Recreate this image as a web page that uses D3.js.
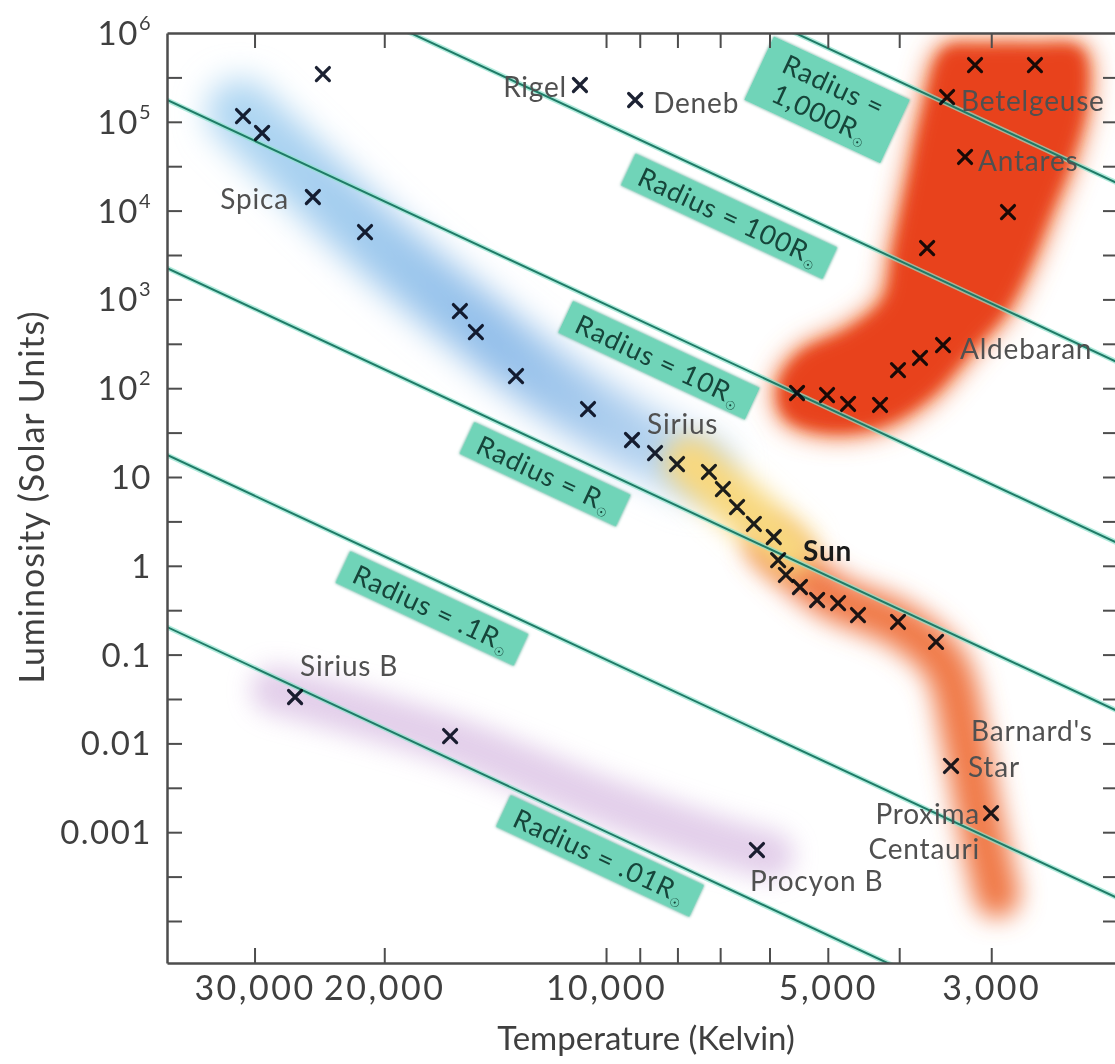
<!DOCTYPE html>
<html>
<head>
<meta charset="utf-8">
<script src="https://cdn.jsdelivr.net/npm/d3@7"></script>
<style>
  body { margin: 0; background: #fff; }
  svg { display: block; font-family: Lato, "Open Sans", sans-serif; }
</style>
</head>
<body>
<svg id="chart" width="1115" height="1064"></svg>
<script>
// ---- data (temperature in K, luminosity in solar units) ----
var xTickValues = [30000, 20000, 10000, 9000, 8000, 7000, 6000, 5000, 4000, 3000];
var xLabelValues = [30000, 20000, 10000, 5000, 3000];
var xLabelText = ["30,000", "20,000", "10,000", "5,000", "3,000"];

var yTickExponents = [-4, -3.5, -3, -2.5, -2, -1.5, -1, -0.5, 0, 0.5, 1, 1.5, 2, 2.5, 3, 3.5, 4, 4.5, 5, 5.5];
var yLabelValues = [1e6, 1e5, 1e4, 1e3, 1e2, 10, 1, 0.1, 0.01, 0.001];
var yLabelBase = ["10", "10", "10", "10", "10", "10", "1", "0.1", "0.01", "0.001"];
var yLabelSup = ["6", "5", "4", "3", "2", "", "", "", "", ""];

// star marks, [T, L]
var blueStars = [[31100, 116200], [29300, 74800], [25000, 14230], [21240, 5740], [15790, 740], [15020, 429],
                 [13250, 137], [10580, 58.3], [9220, 26.1], [8580, 18.6], [8010, 14.0]];
var superGiants = [[24230, 345300], [10850, 259700], [9130, 176000]];
var mainSeq = [[7250, 11.4], [6940, 7.32], [6640, 4.59], [6300, 2.96], [5920, 2.11], [5840, 1.16], [5700, 0.788],
               [5455, 0.577], [5170, 0.412], [4842, 0.381], [4550, 0.279], [4015, 0.233], [3565, 0.139]];
var redGiants = [[3156, 436000], [2617, 436000], [3444, 190000], [3256, 40150], [2847, 9640], [3666, 3790],
                 [3488, 306], [3748, 219], [4015, 160], [4247, 64.7], [4693, 66.4], [5012, 83.8], [5505, 88.3]];
var whiteDwarfs = [[26430, 0.0333], [16280, 0.0121], [6240, 0.00063]];
var redDwarfs = [[3402, 0.00557], [3002, 0.00164]];

var starNames = ["Spica", "Rigel", "Deneb", "Betelgeuse", "Antares", "Aldebaran", "Sirius", "Sun",
                 "Sirius B", "Procyon B", "Barnard's Star", "Proxima Centauri"];
var starTemps = [25000, 10850, 9130, 3444, 3256, 3488, 9220, 5840, 26430, 6240, 3402, 3002];
var starLums = [14230, 259700, 176000, 190000, 40150, 306, 26.1, 1.16, 0.0333, 0.00063, 0.00557, 0.00164];

// lines of constant radius, two end points each
var radiusNames = ["1,000", "100", "10", "", ".1", ".01"];
var radiusLines = [
  [[40000, 2.1e9], [2000, 1.95e4]],
  [[40000, 2.0e7], [2000, 188]],
  [[40000, 1.86e5], [2000, 1.73]],
  [[40000, 2380], [2000, 0.0222]],
  [[40000, 18.7], [2000, 1.74e-4]],
  [[40000, 0.216], [2000, 2.0e-6]]
];

// shaded regions
var blueBand = [[31400, 128900], [26030, 28660], [20270, 4100], [15300, 586], [11550, 95.4], [8990, 26.1], [7455, 12.6]];
var yellowBand = [[7690, 14.8], [6580, 4.84], [5627, 1.51]];
var orangeBand = [[5990, 1.71], [4966, 0.469], [3990, 0.215], [3465, 0.0763], [3256, 0.0109], [3107, 0.00137], [2947, 0.000196]];
var purpleBand = [[28130, 0.0399], [16280, 0.0109], [10190, 0.0023], [7455, 0.00093], [5990, 0.00055]];
var redRegion = [[3465, 643000], [3100, 700000], [2600, 700000], [2273, 643000], [2237, 176000], [2346, 37130],
                 [2496, 10150], [2674, 2440], [2873, 760], [3206, 269], [3633, 83.8], [4247, 38.5], [5122, 33.8],
                 [5715, 49.9], [5805, 109], [5455, 236], [4664, 452], [4181, 984], [4052, 3600], [3868, 22110],
                 [3690, 135800]];

// ---- layout ----
var pLeft = 167, pRight = 1117, pTop = 33, pBottom = 963;
var ink = "#505050";

var x = d3.scaleLog().domain([39440, 2025]).range([pLeft, pRight]);
var y = d3.scaleLog().domain([3.365e-5, 1e6]).range([pBottom, pTop]);

var svg = d3.select("#chart");
var defs = svg.append("defs");

defs.append("clipPath").attr("id", "plot")
  .append("rect").attr("x", pLeft).attr("y", pTop).attr("width", pRight - pLeft).attr("height", pBottom - pTop);

function blur(id, sd) {
  defs.append("filter").attr("id", id)
    .attr("x", "-50%").attr("y", "-50%").attr("width", "200%").attr("height", "200%")
    .append("feGaussianBlur").attr("stdDeviation", sd);
}
blur("b16", 16);
blur("b12", 12);
blur("b7", 7);

var shadow = defs.append("filter").attr("id", "boxShadow")
  .attr("x", "-20%").attr("y", "-40%").attr("width", "140%").attr("height", "180%");
shadow.append("feDropShadow").attr("dx", 0).attr("dy", 0).attr("stdDeviation", 1.6)
  .attr("flood-color", "#2c8a73").attr("flood-opacity", 0.8);

var line = d3.line().x(function(d) { return x(d[0]); }).y(function(d) { return y(d[1]); })
  .curve(d3.curveCatmullRom);
var straight = d3.line().x(function(d) { return x(d[0]); }).y(function(d) { return y(d[1]); });

var plot = svg.append("g").attr("clip-path", "url(#plot)");

// blue band gradient
var bg = defs.append("linearGradient").attr("id", "blueGrad")
  .attr("gradientUnits", "userSpaceOnUse")
  .attr("x1", x(blueBand[0][0])).attr("x2", x(blueBand[blueBand.length - 1][0]))
  .attr("y1", 0).attr("y2", 0);
bg.append("stop").attr("offset", "0%").attr("stop-color", "#aed6f2");
bg.append("stop").attr("offset", "55%").attr("stop-color", "#93bfea");
bg.append("stop").attr("offset", "100%").attr("stop-color", "#bcd7f1");

plot.append("path").datum(blueBand).attr("d", line)
  .attr("fill", "none").attr("stroke", "url(#blueGrad)").attr("stroke-width", 66)
  .attr("stroke-linecap", "round").attr("filter", "url(#b16)");

plot.append("path").datum(purpleBand).attr("d", line)
  .attr("fill", "none").attr("stroke", "#dcc3e5").attr("stroke-width", 48).attr("opacity", 0.8)
  .attr("stroke-linecap", "round").attr("filter", "url(#b12)");

plot.append("path").datum(orangeBand).attr("d", line)
  .attr("fill", "none").attr("stroke", "#f07a4a").attr("stroke-width", 46)
  .attr("stroke-linecap", "round").attr("filter", "url(#b12)");

plot.append("path").datum(yellowBand).attr("d", line)
  .attr("fill", "none").attr("stroke", "#f8d87f").attr("stroke-width", 52)
  .attr("stroke-linecap", "round").attr("filter", "url(#b12)");

var area = d3.line().x(function(d) { return x(d[0]); }).y(function(d) { return y(d[1]); })
  .curve(d3.curveCatmullRomClosed);

plot.append("path").datum(redRegion).attr("d", area)
  .attr("fill", "#f2804e").attr("stroke", "#f2804e").attr("stroke-width", 14)
  .attr("filter", "url(#b12)");
plot.append("path").datum(redRegion).attr("d", area)
  .attr("fill", "#e8431f").attr("filter", "url(#b7)");

// radius lines
radiusLines.forEach(function(seg) {
  plot.append("path").datum(seg).attr("d", straight)
    .attr("fill", "none").attr("stroke", "#8fe3cd").attr("stroke-width", 5).attr("opacity", 0.7);
  plot.append("path").datum(seg).attr("d", straight)
    .attr("fill", "none").attr("stroke", "#1f7b67").attr("stroke-width", 2);
});

// radius label boxes: where along each line (T), and how far below it
var boxLayout = [
  { t: 5012, below: 52, w: 150, h: 70 },
  { t: 6808, below: 35 },
  { t: 8477, below: 31 },
  { t: 12100, below: 30 },
  { t: 17230, below: 30 },
  { t: 10190, below: 27 }
];

radiusLines.forEach(function(seg, i) {
  var x0 = x(seg[0][0]), y0 = y(seg[0][1]), x1 = x(seg[1][0]), y1 = y(seg[1][1]);
  var slope = (y1 - y0) / (x1 - x0);
  var ang = Math.atan(slope) * 180 / Math.PI;
  var lay = boxLayout[i];
  var cx = x(lay.t), cy = y0 + (cx - x0) * slope + lay.below;
  var g = svg.append("g").attr("transform", "translate(" + cx + "," + cy + ") rotate(" + ang + ")");
  var rect = g.append("rect").attr("fill", "#70d4b8").attr("filter", "url(#boxShadow)");
  var txt = g.append("text").attr("text-anchor", "middle").attr("fill", "#16453a")
    .attr("font-size", 27).attr("letter-spacing", 1);
  var w, h;
  if (i === 0) {
    txt.append("tspan").attr("x", 0).attr("y", -6).text("Radius =");
    txt.append("tspan").attr("x", 0).attr("y", 25).text(radiusNames[i] + "R");
    txt.append("tspan").attr("font-size", 12).attr("dy", 5).attr("font-family", "DejaVu Sans").text("\u2609");
    w = lay.w; h = lay.h;
  } else {
    txt.attr("y", 10);
    txt.append("tspan").text("Radius = " + radiusNames[i] + "R");
    txt.append("tspan").attr("font-size", 12).attr("dy", 5).attr("font-family", "DejaVu Sans").text("\u2609");
    w = txt.node().getComputedTextLength() + 26; h = 35;
  }
  rect.attr("x", -w / 2).attr("y", -h / 2).attr("width", w).attr("height", h);
});

// axes
var axisColor = "#4d4d4d";
function styleAxis(g) {
  g.select(".domain").attr("stroke", axisColor).attr("stroke-width", 2.5);
  g.selectAll(".tick line").attr("stroke", axisColor).attr("stroke-width", 2);
  g.selectAll(".tick text").attr("fill", "#3f3f3f").attr("font-size", 34).attr("letter-spacing", 2.5)
    .attr("font-family", "Lato, sans-serif");
}

var yTicks = yTickExponents.map(function(e) { return Math.pow(10, e); });

svg.append("g").attr("transform", "translate(0," + pBottom + ")")
  .call(d3.axisBottom(x).tickValues(xTickValues).tickSizeInner(-15).tickSizeOuter(0).tickPadding(13)
    .tickFormat(function(d) { var k = xLabelValues.indexOf(d); return k < 0 ? "" : xLabelText[k]; }))
  .call(styleAxis);
svg.append("g").attr("transform", "translate(0," + pTop + ")")
  .call(d3.axisTop(x).tickValues(xTickValues).tickSizeInner(-15).tickSizeOuter(0).tickFormat(""))
  .call(styleAxis);
svg.append("g").attr("transform", "translate(" + pLeft + ",0)")
  .call(d3.axisLeft(y).tickValues(yTicks).tickSizeInner(-15).tickSizeOuter(0).tickFormat(""))
  .call(styleAxis);
svg.append("g").attr("transform", "translate(" + pRight + ",0)")
  .call(d3.axisRight(y).tickValues(yTicks).tickSizeInner(-14).tickSizeOuter(0).tickFormat(""))
  .call(styleAxis);

// y labels with superscripts
yLabelValues.forEach(function(v, i) {
  var t = svg.append("text").attr("x", 152).attr("y", y(v) + 12)
    .attr("text-anchor", "end").attr("fill", "#3f3f3f").attr("font-size", 33).attr("letter-spacing", 1.5);
  t.append("tspan").text(yLabelBase[i]);
  if (yLabelSup[i]) {
    t.append("tspan").attr("font-size", 20).attr("dy", -15).text(yLabelSup[i]);
  }
});

// axis titles
svg.append("text").attr("x", 646).attr("y", 1050)
  .attr("text-anchor", "middle").attr("fill", "#3f3f3f").attr("font-size", 33)
  .text("Temperature (Kelvin)");
svg.append("text").attr("transform", "translate(44,497) rotate(-90)")
  .attr("text-anchor", "middle").attr("fill", "#3f3f3f").attr("font-size", 34).attr("letter-spacing", 1)
  .text("Luminosity (Solar Units)");

// star marks
var allStars = [].concat(blueStars, superGiants, mainSeq, redGiants, whiteDwarfs, redDwarfs);
svg.append("g").selectAll("path").data(allStars).join("path")
  .attr("transform", function(d) { return "translate(" + x(d[0]) + "," + y(d[1]) + ")"; })
  .attr("d", "M-6.5,-6.5L6.5,6.5M-6.5,6.5L6.5,-6.5")
  .attr("stroke", "#1c2233").attr("stroke-width", 3.2).attr("stroke-linecap", "round")
  .style("mix-blend-mode", "multiply");

// star labels
var labelLayout = {
  "Spica": { anchor: "end", dx: -24, dy: 1 },
  "Rigel": { anchor: "end", dx: -13, dy: 1 },
  "Deneb": { anchor: "start", dx: 18, dy: 2 },
  "Betelgeuse": { anchor: "start", dx: 14, dy: 3 },
  "Antares": { anchor: "start", dx: 13, dy: 3 },
  "Aldebaran": { anchor: "start", dx: 17, dy: 3 },
  "Sirius": { anchor: "start", dx: 15, dy: -17 },
  "Sun": { anchor: "start", dx: 25, dy: -10, bold: true },
  "Sirius B": { anchor: "start", dx: 5, dy: -32 },
  "Procyon B": { anchor: "start", dx: -7, dy: 30 },
  "Barnard's Star": { anchor: "start", lines: [["Barnard's", 20, -36], ["Star", 17, 0]] },
  "Proxima Centauri": { anchor: "end", lines: [["Proxima", -11, 0], ["Centauri", -11, 35]] }
};

starNames.forEach(function(name, i) {
  var lay = labelLayout[name];
  var px = x(starTemps[i]), py = y(starLums[i]);
  var rows = lay.lines || [[name, lay.dx, lay.dy]];
  rows.forEach(function(r) {
    svg.append("text").attr("x", px + r[1]).attr("y", py + r[2])
      .attr("dominant-baseline", "central").attr("text-anchor", lay.anchor)
      .attr("font-size", 28).attr("letter-spacing", 0.8).attr("fill", lay.bold ? "#1a1a1a" : ink)
      .attr("font-weight", lay.bold ? 700 : 400)
      .text(r[0]);
  });
});
</script>
</body>
</html>
